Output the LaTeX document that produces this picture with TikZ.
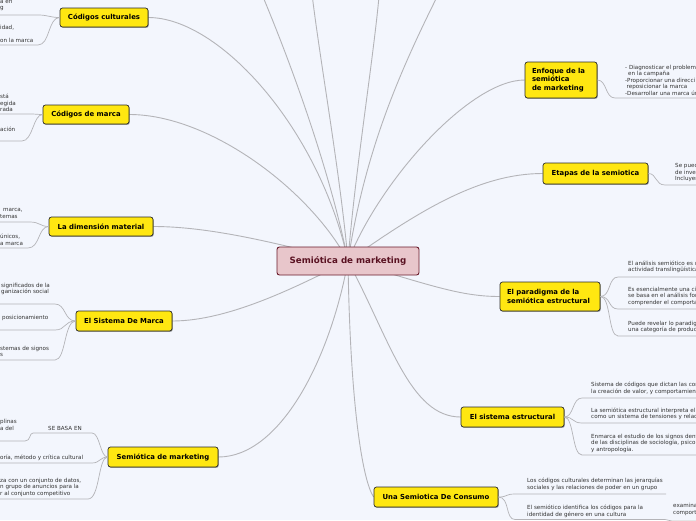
\documentclass[tikz,border=0pt]{standalone}
\usepackage{fontspec}
\setmainfont{DejaVu Sans}
\usetikzlibrary{shadows}
\definecolor{bgc}{HTML}{F3F6FD}
\definecolor{linec}{HTML}{B4B4B8}
\definecolor{ylw}{HTML}{FFE711}
\definecolor{bordc}{HTML}{2A2A2A}
\definecolor{leaftxt}{HTML}{333333}
\definecolor{mainfill}{HTML}{E8C6CB}
\definecolor{mainbord}{HTML}{6A1B2B}
\definecolor{maintxt}{HTML}{5A1222}
\pgfdeclarelayer{back}
\pgfdeclarelayer{lines}
\pgfsetlayers{back,lines,main}
\begin{document}
\begin{tikzpicture}[x=1pt,y=-1pt,
  conn/.style={draw=linec, line width=0.9pt},
  leafline/.style={draw=linec, line width=0.7pt},
  topic/.style={draw=bordc, fill=ylw, rounded corners=2.5pt, line width=0.7pt,
    font=\fontsize{6.9}{8.6}\selectfont\bfseries, text=black, inner xsep=4pt, inner ysep=0pt,
    drop shadow={shadow xshift=0.8pt,shadow yshift=-0.9pt,fill=black,opacity=0.35}},
  leaf/.style={font=\fontsize{5.6}{6.5}\selectfont, text=leaftxt, align=left, inner sep=0pt, anchor=west},
]
\useasboundingbox (0,0) rectangle (696,520);
\begin{pgfonlayer}{back}
\fill[bgc] (0,0) rectangle (696,520);
\end{pgfonlayer}
\clip (0,0) rectangle (696,520);

% main node
\node[draw=mainbord, fill=mainfill, rounded corners=2.5pt, line width=0.9pt,
  minimum width=142pt, minimum height=28pt, inner sep=0pt,
  font=\fontsize{8.7}{10}\selectfont\bfseries, text=maintxt] (c) at (348,261) {Semiótica de marketing};

% topic nodes
\node[topic, minimum width=88pt, minimum height=19pt] (cc) at (104,17.5) {Códigos culturales};
\node[topic, minimum width=86pt, minimum height=19pt] (cm) at (86,114.5) {Códigos de marca};
\node[topic, minimum width=104pt, minimum height=19pt] (ldm) at (101,226.5) {La dimensión material};
\node[topic, minimum width=96pt, minimum height=20pt] (esm) at (124,321) {El Sistema De Marca};
\node[topic, minimum width=110pt, minimum height=20pt] (smc) at (163,457) {Semiótica de marketing};
\node[topic, minimum width=72pt, minimum height=36pt, align=left, text width=58pt] (enf) at (561,80) {Enfoque de la\\semiótica\\de marketing};
\node[topic, minimum width=105pt, minimum height=21pt] (et) at (595.5,173.5) {Etapas de la semiotica};
\node[topic, minimum width=100pt, minimum height=29pt, align=left, text width=86pt] (par) at (550,296.5) {El paradigma de la\\semiótica estructural};
\node[topic, minimum width=103pt, minimum height=20pt] (se) at (512.5,417) {El sistema estructural};
\node[topic, minimum width=124pt, minimum height=20pt] (cons) at (436,497) {Una Semiotica De Consumo};

% off-canvas ends
\coordinate (t1) at (258,-15);
\coordinate (t2) at (311,-15);
\coordinate (t3) at (380,-15);
\coordinate (t4) at (443,-15);

\begin{pgfonlayer}{lines}
\draw[conn] (c.center) .. controls (330,170) and (290,60) .. (t1);
\draw[conn] (c.center) .. controls (340,170) and (318,50) .. (t2);
\draw[conn] (c.center) .. controls (355,170) and (375,50) .. (t3);
\draw[conn] (c.center) .. controls (365,150) and (400,70) .. (t4);
\draw[conn] (c.center) .. controls (320,130) and (220,17.5) .. (cc.east);
\draw[conn] (c.center) .. controls (310,190) and (210,114.5) .. (cm.east);
\draw[conn] (c.center) .. controls (300,250) and (220,226.5) .. (ldm.east);
\draw[conn] (c.center) .. controls (300,285) and (230,321) .. (esm.east);
\draw[conn] (c.center) .. controls (330,360) and (280,457) .. (smc.east);
\draw[conn] (c.center) .. controls (380,180) and (470,80) .. (enf.west);
\draw[conn] (c.center) .. controls (420,210) and (480,173.5) .. (et.west);
\draw[conn] (c.center) .. controls (430,285) and (460,296.5) .. (par.west);
\draw[conn] (c.center) .. controls (390,340) and (410,417) .. (se.west);
\draw[conn] (c.center) .. controls (350,400) and (362,480) .. (cons.west);
\end{pgfonlayer}

% ---------- left leaves ----------
% Codigos culturales
\node[leaf] (cca) at (0,5.5) {a en\\g};
\node[leaf] (ccb) at (0,33.5) {idad,\\\mbox{}\\on la marca};
\coordinate (ccas) at (38,15); \coordinate (ccae) at (-5,15);
\coordinate (ccbs) at (38,45); \coordinate (ccbe) at (-5,45);
\draw[leafline] (cc.west) .. controls (50,17.5) and (48,15) .. (ccas) -- (ccae);
\draw[leafline] (cc.west) .. controls (48,17.5) and (50,45) .. (ccbs) -- (ccbe);

% Codigos de marca
\node[leaf] (cma) at (0,103) {stá\\egida\\rada};
\node[leaf] (cmb) at (0,129) {ación};
\coordinate (cmas) at (30,114); \coordinate (cmae) at (-5,114);
\coordinate (cmbs) at (22,141); \coordinate (cmbe) at (-5,141);
\draw[leafline] (cm.west) .. controls (38,114.5) and (36,114) .. (cmas) -- (cmae);
\draw[leafline] (cm.west) .. controls (33,114.5) and (33,141) .. (cmbs) -- (cmbe);

% La dimension material
\node[leaf] (ldma) at (0,213.5) {\hspace{3pt}marca,\\temas};
\node[leaf] (ldmb) at (0,240) {únicos,\\a marca};
\coordinate (ldmas) at (30,222); \coordinate (ldmae) at (-5,222);
\coordinate (ldmbs) at (28,248); \coordinate (ldmbe) at (-5,248);
\draw[leafline] (ldm.west) .. controls (40,226.5) and (40,222) .. (ldmas) -- (ldmae);
\draw[leafline] (ldm.west) .. controls (38,226.5) and (40,248) .. (ldmbs) -- (ldmbe);

% El Sistema De Marca
\node[leaf] (esma) at (1,289) {significados de la\\ganización social};
\node[leaf] (esmb) at (2,318) {posicionamiento};
\node[leaf] (esmc) at (0,351.5) {stemas de signos\\s};
\coordinate (esmas) at (55,304); \coordinate (esmae) at (-5,304);
\coordinate (esmbs) at (55,330); \coordinate (esmbe) at (-5,330);
\coordinate (esmcs) at (55,360); \coordinate (esmce) at (-5,360);
\draw[leafline] (esm.west) .. controls (64,321) and (66,304) .. (esmas) -- (esmae);
\draw[leafline] (esm.west) .. controls (64,321) and (66,330) .. (esmbs) -- (esmbe);
\draw[leafline] (esm.west) .. controls (64,321) and (66,360) .. (esmcs) -- (esmce);

% Semiotica de marketing (child)
\node[leaf] (sba) at (48,428) {SE BASA EN};
\node[leaf] (sbb) at (0,425) {plinas\\a del};
\node[leaf] (smcb) at (0,458) {oría, método y crítica cultural};
\node[leaf] (smcc) at (0,487) {za con un conjunto de datos,\\n grupo de anuncios para la\\r al conjunto competitivo};
\coordinate (sbae) at (33,433); \coordinate (sbas) at (92,433);
\coordinate (sbbs) at (25,441); \coordinate (sbbe) at (-5,441);
\coordinate (smcbs) at (92,463); \coordinate (smcbe) at (-5,463);
\coordinate (smccs) at (88,499); \coordinate (smcce) at (-5,499);
\draw[leafline] (smc.west) .. controls (100,457) and (100,433) .. (sbas) -- (sbae);
\draw[leafline] (sbae) .. controls (29,433) and (31,441) .. (sbbs) -- (sbbe);
\draw[leafline] (smc.west) .. controls (100,457) and (100,463) .. (smcbs) -- (smcbe);
\draw[leafline] (smc.west) .. controls (98,457) and (100,499) .. (smccs) -- (smcce);

% ---------- right leaves ----------
% Enfoque
\node[leaf] (enfl) at (625,80) {- Diagnosticar el problema\\\hspace{3pt}en la campaña\\-Proporcionar una direcci\\\hspace{1.5pt}reposicionar la marca\\-Desarrollar una marca ún};
\coordinate (enfs) at (615,98); \coordinate (enfe) at (705,98);
\draw[leafline] (enf.east) .. controls (607,80) and (605,98) .. (enfs) -- (enfe);

% Etapas
\node[leaf] (etl) at (675,172.5) {Se pued\\de inver\\Incluyen};
\coordinate (ets) at (665,185); \coordinate (ete) at (705,185);
\draw[leafline] (et.east) .. controls (657,173.5) and (655,185) .. (ets) -- (ete);

% Paradigma
\node[leaf] (para) at (628,267) {El análisis semiótico es u\\actividad translingüística};
\node[leaf] (parb) at (628,296) {Es esencialmente una cie\\se basa en el análisis for\\comprender el comporta};
\node[leaf] (parc) at (628,327) {Puede revelar lo paradig\\una categoría de product};
\coordinate (paras) at (618,277); \coordinate (parae) at (705,277);
\coordinate (parbs) at (618,309); \coordinate (parbe) at (705,309);
\coordinate (parcs) at (618,336); \coordinate (parce) at (705,336);
\draw[leafline] (par.east) .. controls (611,296.5) and (608,277) .. (paras) -- (parae);
\draw[leafline] (par.east) .. controls (611,296.5) and (608,309) .. (parbs) -- (parbe);
\draw[leafline] (par.east) .. controls (611,296.5) and (608,336) .. (parcs) -- (parce);

% Sistema estructural
\node[leaf] (sea) at (591,388.5) {Sistema de códigos que dictan las con\\la creación de valor, y comportamient};
\node[leaf] (seb) at (591,414) {La semiótica estructural interpreta el\\como un sistema de tensiones y relac};
\node[leaf] (sec) at (591,443) {Enmarca el estudio de los signos dent\\de las disciplinas de sociología, psicol\\y antropología.};
\coordinate (seas) at (582,398); \coordinate (seae) at (705,398);
\coordinate (sebs) at (582,423); \coordinate (sebe) at (705,423);
\coordinate (secs) at (582,455); \coordinate (sece) at (705,455);
\draw[leafline] (se.east) .. controls (574,417) and (572,398) .. (seas) -- (seae);
\draw[leafline] (se.east) .. controls (574,417) and (572,423) .. (sebs) -- (sebe);
\draw[leafline] (se.east) .. controls (574,417) and (572,455) .. (secs) -- (sece);

% Consumo
\node[leaf] (consa) at (527,484.5) {Los códigos culturales determinan las jerarquías\\sociales y las relaciones de poder en un grupo};
\node[leaf] (consb) at (527,511.5) {El semiótico identifica los códigos para la\\identidad de género en una cultura};
\node[leaf] (consc) at (673,509.5) {examina\\comport};
\coordinate (consas) at (515,494); \coordinate (consae) at (666,494);
\coordinate (consbs) at (515,519.5); \coordinate (consbe) at (665,519.5);
\coordinate (conscs) at (672,521); \coordinate (consce) at (705,521);
\draw[leafline] (cons.east) .. controls (508,497) and (505,494) .. (consas) -- (consae);
\draw[leafline] (cons.east) .. controls (510,497) and (505,519.5) .. (consbs) -- (consbe);
\draw[leafline] (consbe) .. controls (668,519.5) and (669,521) .. (conscs) -- (consce);
\end{tikzpicture}
\end{document}
